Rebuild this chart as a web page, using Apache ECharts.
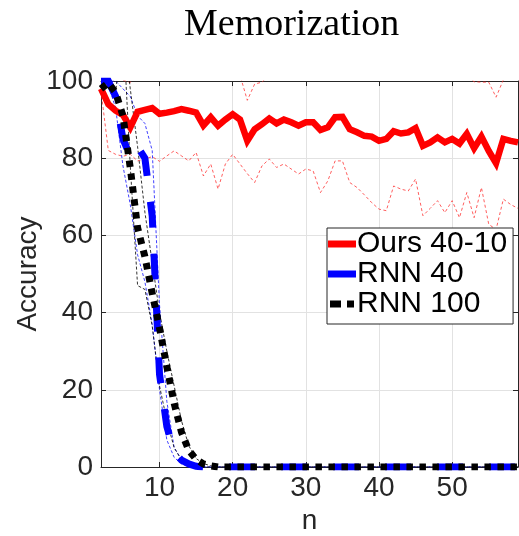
<!DOCTYPE html>
<html><head><meta charset="utf-8">
<script src="https://cdn.jsdelivr.net/npm/echarts@6/dist/echarts.min.js"></script>
<style>html,body{margin:0;padding:0;background:#fff}#c{width:519px;height:536px}</style>
</head><body><div id="c"></div>
<script>
const nValues = [2,3,4,5,6,7,8,9,10,11,12,13,14,15,16,17,18,19,20,21,22,23,24,25,26,27,28,29,30,31,32,33,34,35,36,37,38,39,40,41,42,43,44,45,46,47,48,49,50,51,52,53,54,55,56,57,58,59];
const oursMean = [98,94,92.3,91.2,88,92,92.5,93,91.5,91.8,92.2,92.7,92.3,91.8,88.5,90.6,88.4,90,91.4,90,84.5,87.5,88.8,90.3,89,90,89.3,88.4,89.3,89.3,87.3,88,90.6,90.7,87.5,86.7,85.8,85.6,84.5,85,87,86.4,86.7,87.8,83.2,84.1,85.4,84.1,85,83.8,86.3,82.6,85.6,81.9,78.7,85,84.5,84.1];
const oursUpper = [98.5,104,103,100.2,99.6,104,105,105.5,103.8,103,102.5,104.8,105.3,102.1,101.6,102.7,104.8,101.5,101.8,101.5,95,99.2,99.7,101.5,101.6,101.5,101.6,101.9,101.6,101.9,103.5,101.9,101.9,102.1,101.6,101.6,101.6,102.7,102.2,103.6,101.6,101.8,101.9,101.6,101.6,101.6,101.8,102.3,101.6,103,101.5,99.8,99.7,99.7,95.8,100.3,101.6,101.6];
const oursLower = [97.5,82,81,80.5,81,79.3,79.8,80.4,79.2,80.6,81.9,80.6,79.3,81.5,75.4,78.5,72,78.5,81,78.5,76,73.7,78,79.8,77.6,78.5,77.2,75.9,77.2,76.7,71.1,74.1,79.3,79.3,73.7,72.4,70.5,68.5,66.8,66.4,72.8,72,71.5,74.6,65.1,67,69,65.9,69,64.6,71.1,64.6,72.4,62.9,61.5,69.4,68,67];
const rnn40Mean = [100,100,96,85,80.5,83,80,65,24,10.5,3.8,1.8,0.8,0.2,0,0,0,0,0,0,0,0,0,0,0,0,0,0,0,0,0,0,0,0,0,0,0,0,0,0,0,0,0,0,0,0,0,0,0,0,0,0,0,0,0,0,0,0];
const rnn40Upper = [100,100,100,98,96,91,89,82,42,17,5,2,0.7,0.2,0,0,0,0,0,0,0,0,0,0,0,0,0,0,0,0,0,0,0,0,0,0,0,0,0,0,0,0,0,0,0,0,0,0,0,0,0,0,0,0,0,0];
const rnn40Lower = [100,99,93,78,68,55,48,37,20,7,2.5,0.8,0.2,0,0,0,0,0,0,0,0,0,0,0,0,0,0,0,0,0,0,0,0,0,0,0,0,0,0,0,0,0,0,0,0,0,0,0,0,0,0,0,0,0,0,0,0,0];
const rnn100Mean = [98,99.5,97,91,77.5,62,54.5,45,36,26,16.5,9,4.3,2,0.8,0.3,0,0,0,0,0,0,0,0,0,0,0,0,0,0,0,0,0,0,0,0,0,0,0,0,0,0,0,0,0,0,0,0,0,0,0,0,0,0,0,0,0,0];
const rnn100Upper = [99,100.5,101,115,98,83,66,53,40,30,21,12,5.5,2.2,0.9,0.3,0,0,0,0,0,0,0,0,0,0,0,0,0,0,0,0,0,0,0,0,0,0,0,0,0,0,0,0,0,0,0,0,0,0,0,0,0,0,0,0,0,0];
const rnn100Lower = [97,99,97,115,78,47,46,36.5,21,12,5,1.8,0.5,0.1,0,0,0,0,0,0,0,0,0,0,0,0,0,0,0,0,0,0,0,0,0,0,0,0,0,0,0,0,0,0,0,0,0,0,0,0,0,0,0,0,0,0,0,0];
const xTicks = [10,20,30,40,50];
const seriesNames = ['Ours 40-10','RNN 40','RNN 100'];

const pairs = arr => nValues.map((n,i)=>[n, arr[i]]);
const FONT = 'Liberation Sans, Arial, Helvetica, sans-serif';
const AX = '#262626';

function thin(name, arr, color, dash){
  return {name:name, type:'line', data:pairs(arr), showSymbol:false, symbol:'none', silent:true,
    lineStyle:{color:color, width:1, type:dash}, itemStyle:{color:color}, z:2, animation:false};
}
function thick(name, arr, color, width, dash, cap, z){
  return {name:name, type:'line', data:pairs(arr), showSymbol:false, symbol:'none',
    lineStyle:{color:color, width:width, type:dash, cap:cap, join:'miter'}, itemStyle:{color:color}, z:z, animation:false};
}

const chart = echarts.init(document.getElementById('c'), null, {renderer:'canvas'});
chart.setOption({
  backgroundColor:'#fff',
  animation:false,
  title:{text:'Memorization', left:179, top:1,
    textStyle:{fontFamily:'Liberation Serif, Times New Roman, serif', fontSize:38, fontWeight:'normal', color:'#000'}},
  grid:{left:101, right:1, top:81, bottom:69, containLabel:false, outerBoundsMode:'none'},
  legend:{
    data:[
      {name:seriesNames[0], icon:'rect', itemStyle:{color:'#ff0000', borderWidth:0}},
      {name:seriesNames[1], icon:'rect', itemStyle:{color:'#0000ff', borderWidth:0}},
      {name:seriesNames[2], icon:'path://M0,0H11V7H0Z M17,0H24V7H17Z', itemStyle:{color:'#000', borderWidth:0}}
    ],
    orient:'vertical', left:327, top:228,
    itemWidth:28, itemHeight:7, itemGap:0,
    padding:[1,6,5,1],
    borderColor:AX, borderWidth:1, backgroundColor:'#fff',
    textStyle:{fontFamily:FONT, fontSize:30, color:'#000', padding:[0,0,0,-4]},
    selectedMode:false, z:10
  },
  xAxis:[
    {type:'value', min:2, max:59, position:'bottom',
     name:'n', nameLocation:'middle', nameGap:40, nameMoveOverlap:false,
     nameTextStyle:{fontFamily:FONT, fontSize:28, color:AX},
     axisLine:{show:true, onZero:false, lineStyle:{color:AX, width:1}},
     axisTick:{show:true, inside:true, length:5, customValues:xTicks, lineStyle:{color:AX}},
     axisLabel:{customValues:xTicks, fontFamily:FONT, fontSize:28, color:AX, margin:7},
     splitLine:{show:true, lineStyle:{color:'#e2e2e2', width:1}}},
    {type:'value', min:2, max:59, position:'top',
     axisLine:{show:true, onZero:false, lineStyle:{color:AX, width:1}},
     axisTick:{show:true, inside:true, length:5, customValues:xTicks, lineStyle:{color:AX}},
     axisLabel:{show:false}, splitLine:{show:false}}
  ],
  yAxis:[
    {type:'value', min:0, max:100, interval:20, position:'left',
     name:'Accuracy', nameLocation:'middle', nameGap:59, nameRotate:90, nameMoveOverlap:false,
     nameTextStyle:{fontFamily:FONT, fontSize:28, color:AX},
     axisLine:{show:true, onZero:false, lineStyle:{color:AX, width:1}},
     axisTick:{show:true, inside:true, length:5, lineStyle:{color:AX}},
     axisLabel:{fontFamily:FONT, fontSize:28, color:AX, margin:8},
     splitLine:{show:true, lineStyle:{color:'#e2e2e2', width:1}}},
    {type:'value', min:0, max:100, interval:20, position:'right',
     axisLine:{show:true, onZero:false, lineStyle:{color:AX, width:1}},
     axisTick:{show:true, inside:true, length:5, lineStyle:{color:AX}},
     axisLabel:{show:false}, splitLine:{show:false}}
  ],
  series:[
    thin('ours_up', oursUpper, 'rgba(255,40,40,0.75)', [3,2.5]),
    thin('ours_lo', oursLower, 'rgba(255,40,40,0.75)', [3,2.5]),
    thin('rnn40_up', rnn40Upper, 'rgba(30,30,255,0.85)', [3,2]),
    thin('rnn40_lo', rnn40Lower, 'rgba(30,30,255,0.85)', [3,2]),
    thin('rnn100_up', rnn100Upper, 'rgba(0,0,0,0.8)', [3,2]),
    thin('rnn100_lo', rnn100Lower, 'rgba(0,0,0,0.8)', [3,2]),
    thick(seriesNames[0], oursMean, '#ff0000', 6.5, 'solid', 'butt', 5),
    thick(seriesNames[1], rnn40Mean, '#0000ff', 7, [26,26], 'butt', 6),
    thick(seriesNames[2], rnn100Mean, '#000000', 7, [6.5,6.5], 'butt', 7)
  ]
});
</script></body></html>
